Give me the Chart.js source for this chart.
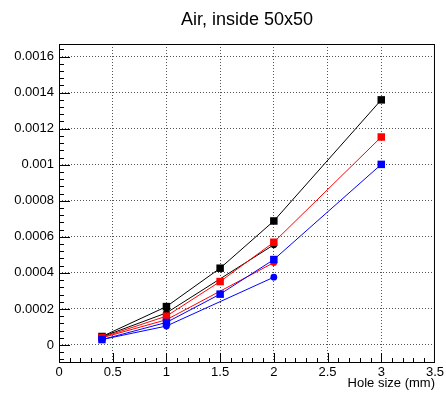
<!DOCTYPE html>
<html>
<head>
<meta charset="utf-8">
<script src="https://cdn.jsdelivr.net/npm/chart.js@4"></script>
<style>
  html, body { margin: 0; padding: 0; background: #fff; }
  #wrap { width: 446px; height: 393px; }
</style>
</head>
<body>
<div id="wrap"><canvas id="myChart" width="446" height="393"></canvas></div>
<script>
// hole sizes (mm)
const xSquares = [0.4, 1, 1.5, 2, 3]
const xCircles = [0.4, 1, 2]

// square marker series
const blackSquares = [0.000047, 0.000213, 0.000426, 0.000688, 0.00136]
const redSquares = [0.000042, 0.00016, 0.000352, 0.00057, 0.001154]
const blueSquares = [0.00003, 0.000125, 0.000282, 0.000474, 0.001002]

// circle marker series
const blackCircles = [0.000045, 0.000178, 0.000556]
const redCircles = [0.00004, 0.00014, 0.000457]
const blueCircles = [0.00003, 0.000105, 0.000376]

const xTicks = [0, 0.5, 1, 1.5, 2, 2.5, 3, 3.5]
const yTicks = [0, 0.0002, 0.0004, 0.0006, 0.0008, 0.001, 0.0012, 0.0014, 0.0016]

const FONT = '"Liberation Sans", Arial, Helvetica, sans-serif'

function pts(xs, ys) {
    return xs.map((x, i) => ({ x: x, y: ys[i] }))
}

function series(xs, ys, color, style) {
    return {
        data: pts(xs, ys),
        showLine: true,
        borderColor: color,
        borderWidth: 1,
        backgroundColor: color,
        pointBackgroundColor: color,
        pointBorderWidth: 0,
        pointStyle: style,
        pointRadius: style === 'rect' ? 5.3 : 3.4,
        pointHoverRadius: style === 'rect' ? 5.3 : 3.4
    }
}

// ROOT style frame, inner ticks, title and axis title
const rootFrame = {
    id: 'rootFrame',
    afterDraw(chart) {
        const ctx = chart.ctx
        const a = chart.chartArea
        const xs = chart.scales.x
        const ys = chart.scales.y
        ctx.save()
        ctx.strokeStyle = '#000'
        ctx.lineWidth = 1
        ctx.strokeRect(a.left + 0.5, a.top + 0.5, a.right - a.left - 1, a.bottom - a.top - 1)

        ctx.beginPath()
        // x ticks (minor every 0.1, major every 0.5)
        for (let i = 1; i < 35; i++) {
            const px = Math.round(xs.getPixelForValue(i / 10)) + 0.5
            const len = i % 5 === 0 ? 10 : 5
            ctx.moveTo(px, a.bottom)
            ctx.lineTo(px, a.bottom - len)
        }
        // y ticks (minor every 0.00004, major every 0.0002)
        for (let i = -2; i <= 41; i++) {
            const v = i * 0.00004
            if (v < ys.min || v > ys.max) continue
            const py = Math.round(ys.getPixelForValue(v)) + 0.5
            const len = i % 5 === 0 ? 11 : 5
            ctx.moveTo(a.left, py)
            ctx.lineTo(a.left + len, py)
        }
        ctx.stroke()

        ctx.fillStyle = '#000'
        ctx.textBaseline = 'alphabetic'
        ctx.font = '18px ' + FONT
        ctx.textAlign = 'center'
        ctx.fillText('Air, inside 50x50', 247, 25)

        ctx.font = '13px ' + FONT
        ctx.textAlign = 'right'
        ctx.fillText('Hole size (mm)', a.right, 387)
        ctx.restore()
    }
}

const ctx = document.getElementById('myChart')
new Chart(ctx, {
    type: 'scatter',
    data: {
        // later in the list = drawn first (underneath)
        datasets: [
            series(xCircles, blueCircles, '#0000ff', 'circle'),
            series(xSquares, blueSquares, '#0000ff', 'rect'),
            series(xCircles, redCircles, '#ff0000', 'circle'),
            series(xSquares, redSquares, '#ff0000', 'rect'),
            series(xCircles, blackCircles, '#000000', 'circle'),
            series(xSquares, blackSquares, '#000000', 'rect')
        ]
    },
    options: {
        responsive: false,
        animation: false,
        devicePixelRatio: 1,
        layout: { padding: { top: 44, right: 8, left: 0, bottom: 0 } },
        plugins: {
            legend: { display: false },
            tooltip: { enabled: false },
            title: { display: false }
        },
        scales: {
            x: {
                type: 'linear',
                min: 0,
                max: 3.5,
                afterBuildTicks: (s) => { s.ticks = xTicks.map(v => ({ value: v })) },
                afterFit: (s) => { s.height = 30 },
                grid: { color: '#555', lineWidth: 1, drawTicks: false },
                border: { display: false, dash: [1, 2] },
                ticks: {
                    padding: 2,
                    maxRotation: 0,
                    autoSkip: false,
                    color: '#000',
                    font: { family: FONT, size: 13 },
                    callback: (v) => String(v)
                }
            },
            y: {
                type: 'linear',
                min: -0.0001,
                max: 0.00167,
                afterBuildTicks: (s) => { s.ticks = yTicks.map(v => ({ value: v })) },
                afterFit: (s) => { s.width = 59 },
                grid: { color: '#555', lineWidth: 1, drawTicks: false },
                border: { display: false, dash: [1, 2] },
                ticks: {
                    padding: 5,
                    autoSkip: false,
                    color: '#000',
                    font: { family: FONT, size: 13 },
                    callback: (v) => String(v)
                }
            }
        }
    },
    plugins: [rootFrame]
})
</script>
</body>
</html>
